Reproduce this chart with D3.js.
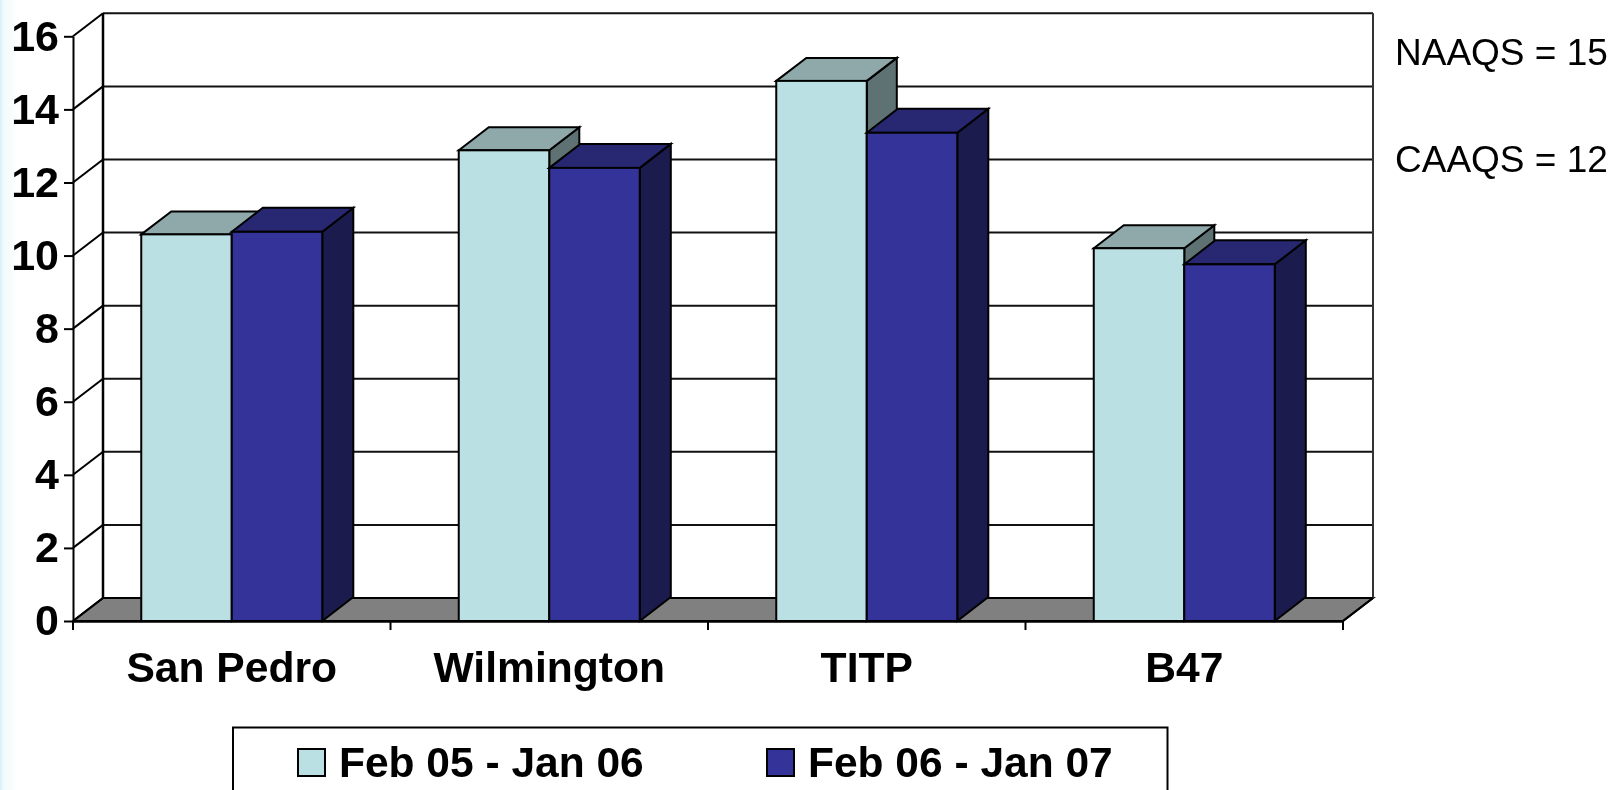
<!DOCTYPE html>
<html>
<head>
<meta charset="utf-8">
<script src="https://cdnjs.cloudflare.com/ajax/libs/d3/7.8.5/d3.min.js"></script>
<style>
    html, body {margin: 0; padding: 0; background: white; overflow: hidden;}
    svg {filter: blur(0.4px);}
    text {font-family: "Liberation Sans", Arial, sans-serif; fill: #000;}
</style>
</head>
<body>
<svg id="chart" width="1614" height="790"></svg>
<script>
const categories = ["San Pedro", "Wilmington", "TITP", "B47"];
const series_names = ["Feb 05 - Jan 06", "Feb 06 - Jan 07"];
const values_feb05 = [10.58, 12.88, 14.78, 10.2];
const values_feb06 = [10.65, 12.4, 13.36, 9.76];
const y_ticks = [0, 2, 4, 6, 8, 10, 12, 14, 16];
const notes = ["NAAQS = 15", "CAAQS = 12"];

const colors = [
    {front: "#bbe0e3", top: "#8fa9ab", side: "#5f7273"},
    {front: "#333399", top: "#272772", side: "#1b1b4d"},
];

const w = 1614, h = 790;
const x_left = 73, x_right = 1343, y_bottom = 621, y_top = 36.3;
const depth_x = 30, depth_y = 23;
const bar_depth_x = [30, 31], bar_depth_y = [23, 24];

const svg = d3.select("#chart");

// page edge
const defs = svg.append("defs");
const edge = defs.append("linearGradient").attr("id", "edge");
edge.append("stop").attr("offset", 0).attr("stop-color", "#d8f0fa");
edge.append("stop").attr("offset", 0.2).attr("stop-color", "#f0fafc");
edge.append("stop").attr("offset", 1).attr("stop-color", "#ffffff");
svg.append("rect").attr("width", 18).attr("height", h).attr("fill", "url(#edge)");

// scales
const x = d3.scaleBand().domain(categories).range([x_left, x_right]);
const y = d3.scaleLinear().domain([0, 16]).range([y_bottom, y_top]);
const bars_w = 181;
const x_bar = d3.scaleBand().domain([0, 1]).range([(x.bandwidth()-bars_w)/2, (x.bandwidth()+bars_w)/2]);

const poly = pts => pts.map(p => p.map(v => v.toFixed(1)).join(",")).join(" ");

// walls
const chart = svg.append("g").attr("stroke-linejoin", "miter");
chart.append("polygon")
    .attr("points", poly([[x_left, y(0)], [x_left+depth_x, y(0)-depth_y], [x_right+depth_x, y(0)-depth_y], [x_right, y(0)]]))
    .attr("fill", "#808080")
    .attr("stroke", "#000")
    .attr("stroke-width", 2);

// gridlines
chart.append("g").selectAll("line").data(y_ticks.filter(d => d > 0)).enter().append("line")
    .attr("x1", x_left+depth_x)
    .attr("x2", x_right+depth_x)
    .attr("y1", d => y(d)-depth_y)
    .attr("y2", d => y(d)-depth_y)
    .attr("stroke", "#111")
    .attr("stroke-width", 2);

// side wall diagonals
chart.append("g").selectAll("line").data(y_ticks).enter().append("line")
    .attr("x1", x_left)
    .attr("x2", x_left+depth_x)
    .attr("y1", d => y(d))
    .attr("y2", d => y(d)-depth_y)
    .attr("stroke", "#000")
    .attr("stroke-width", 2);

chart.append("line")
    .attr("x1", x_left+depth_x).attr("x2", x_left+depth_x)
    .attr("y1", y(0)-depth_y).attr("y2", y(16)-depth_y)
    .attr("stroke", "#000").attr("stroke-width", 2.5);

chart.append("line")
    .attr("x1", x_right+depth_x).attr("x2", x_right+depth_x)
    .attr("y1", y(0)-depth_y).attr("y2", y(16)-depth_y)
    .attr("stroke", "#333").attr("stroke-width", 2);

chart.append("line")
    .attr("x1", x_right).attr("x2", x_right+depth_x)
    .attr("y1", y(0)).attr("y2", y(0)-depth_y)
    .attr("stroke", "#000").attr("stroke-width", 2);

// bars
const groups = chart.append("g").selectAll("g").data(categories).enter().append("g")
    .attr("transform", d => `translate(${x(d)}, 0)`);

[values_feb05, values_feb06].forEach((values, s) => {
    const x0 = x_bar(s), x1 = x0 + x_bar.bandwidth();
    const dx = bar_depth_x[s], dy = bar_depth_y[s];
    const bar = groups.append("g")
        .attr("stroke", "#000")
        .attr("stroke-width", 2);

    // side
    bar.append("polygon")
        .attr("fill", colors[s].side)
        .attr("points", (d, i) => poly([[x1, y(values[i])], [x1+dx, y(values[i])-dy], [x1+dx, y(0)-dy], [x1, y(0)]]));

    // top
    bar.append("polygon")
        .attr("fill", colors[s].top)
        .attr("points", (d, i) => poly([[x0, y(values[i])], [x0+dx, y(values[i])-dy], [x1+dx, y(values[i])-dy], [x1, y(values[i])]]));

    // front
    bar.append("rect")
        .attr("fill", colors[s].front)
        .attr("x", x0)
        .attr("width", x_bar.bandwidth())
        .attr("y", (d, i) => y(values[i]))
        .attr("height", (d, i) => y(0)-y(values[i]));
});

// axis_y
const axis_y = svg.append("g")
    .attr("transform", `translate(${x_left}, 0)`)
    .call(d3.axisLeft(y).tickValues(y_ticks).tickSize(9).tickSizeOuter(0).tickPadding(5));
axis_y.selectAll("line, path").attr("stroke", "#000").attr("stroke-width", 2);
axis_y.selectAll("text")
    .style("font-family", '"Liberation Sans", Arial, sans-serif')
    .style("font-size", "43px")
    .style("font-weight", "bold");

// axis_x
const axis_x = svg.append("g")
    .attr("transform", `translate(0, ${y_bottom})`)
    .call(d3.axisBottom(x).tickSize(0).tickSizeOuter(0).tickPadding(31));
axis_x.select("path").attr("stroke", "#000").attr("stroke-width", 2.5);
axis_x.selectAll("text")
    .style("font-family", '"Liberation Sans", Arial, sans-serif')
    .style("font-size", "42.6px")
    .style("font-weight", "bold");

axis_x.append("g").selectAll("line").data(d3.range(categories.length+1)).enter().append("line")
    .attr("x1", d => x_left + d*x.step())
    .attr("x2", d => x_left + d*x.step())
    .attr("y1", 0)
    .attr("y2", 9)
    .attr("stroke", "#000")
    .attr("stroke-width", 2);

// notes
svg.append("g").selectAll("text").data(notes).enter().append("text")
    .attr("x", 1395)
    .attr("y", (d, i) => 65 + i*107)
    .style("font-size", "37px")
    .text(d => d);

// legend
const legend = svg.append("g");
legend.append("rect")
    .attr("x", 233).attr("y", 727.5)
    .attr("width", 934.5).attr("height", 80)
    .attr("fill", "white").attr("stroke", "#000").attr("stroke-width", 2);

const legend_items = legend.selectAll("g").data(series_names).enter().append("g")
    .attr("transform", (d, i) => `translate(${298 + i*469}, 749)`);
legend_items.append("rect")
    .attr("width", 27).attr("height", 27)
    .attr("fill", (d, i) => colors[i].front)
    .attr("stroke", "#000").attr("stroke-width", 2);
legend_items.append("text")
    .attr("x", 41).attr("y", 27.5)
    .style("font-size", "42.5px")
    .style("font-weight", "bold")
    .text(d => d);
</script>
</body>
</html>
